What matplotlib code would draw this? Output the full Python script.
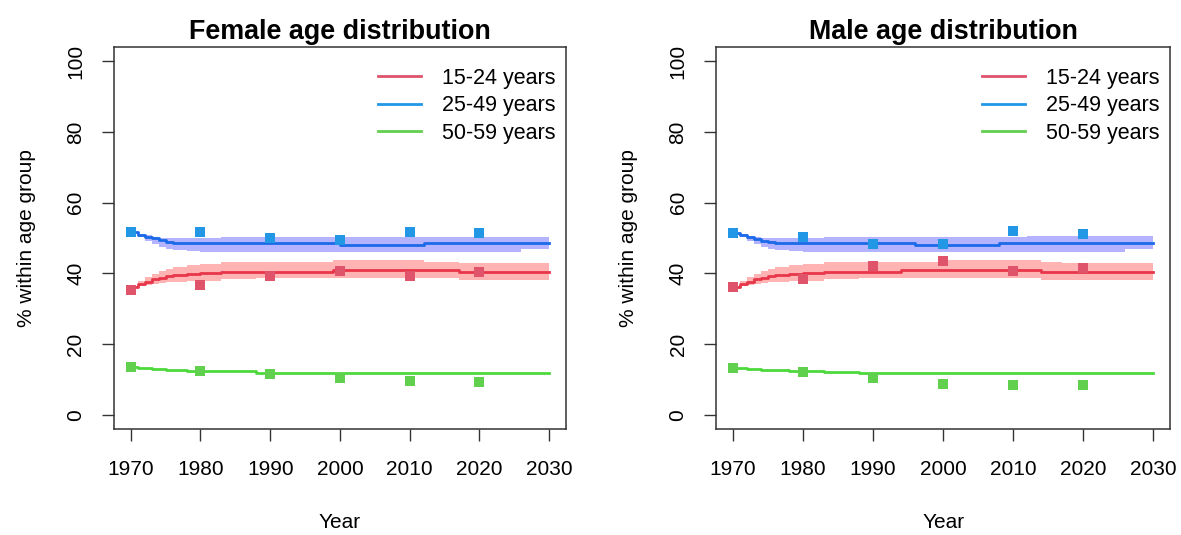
import matplotlib
matplotlib.use('Agg')
import matplotlib.pyplot as plt
from matplotlib.lines import Line2D
import numpy as np

plt.rcParams['font.family'] = ['Liberation Sans', 'DejaVu Sans']

# knot years of the model curves (value holds until next knot)
model_years = [1970, 1971, 1972, 1973, 1974, 1975, 1976, 1978, 1980, 1983, 1988,
               1994, 1996, 1999, 2000, 2008, 2012, 2014, 2017, 2026, 2030]

# female model
f_young_mid = [36.1, 37.0, 37.7, 38.3, 38.8, 39.2, 39.5, 39.9, 40.1, 40.5, 40.5,
               40.5, 40.5, 41.0, 41.0, 41.0, 41.0, 41.0, 40.5, 40.5, 40.5]
f_young_lo = [36.1, 36.4, 36.8, 37.1, 37.3, 37.5, 37.6, 37.8, 37.9, 38.3, 38.6,
              38.6, 38.6, 38.6, 38.6, 38.6, 38.6, 38.6, 38.1, 38.1, 38.1]
f_young_hi = [36.1, 37.8, 39.0, 39.9, 40.6, 41.2, 41.7, 42.3, 42.7, 43.3, 43.3,
              43.3, 43.3, 43.7, 43.7, 43.7, 43.3, 43.3, 43.0, 43.0, 43.0]
f_mid_mid = [51.7, 51.0, 50.4, 49.9, 49.4, 49.0, 48.6, 48.5, 48.5, 48.5, 48.5,
             48.5, 48.5, 48.5, 48.0, 48.0, 48.5, 48.5, 48.5, 48.5, 48.5]
f_mid_lo = [51.7, 50.4, 49.3, 48.4, 47.6, 47.0, 46.6, 46.3, 46.1, 46.1, 46.1,
            46.1, 46.1, 46.1, 46.1, 46.1, 46.1, 46.1, 46.1, 46.8, 46.8]
f_mid_hi = [51.7, 51.2, 50.8, 50.4, 50.1, 49.9, 49.9, 49.9, 49.9, 50.4, 50.4,
            50.4, 50.4, 50.4, 50.4, 50.4, 50.4, 50.4, 50.4, 50.4, 50.4]
f_old_mid = [13.6, 13.4, 13.2, 13.0, 12.9, 12.8, 12.7, 12.5, 12.4, 12.3, 11.9,
             11.9, 11.9, 11.9, 11.9, 11.9, 11.9, 11.9, 11.9, 11.9, 11.9]

# male model
m_young_mid = [36.1, 37.0, 37.7, 38.3, 38.8, 39.2, 39.5, 39.9, 40.1, 40.5, 40.5,
               41.0, 41.0, 41.0, 41.0, 41.0, 41.0, 40.5, 40.5, 40.5, 40.5]
m_young_lo = [36.1, 36.4, 36.8, 37.1, 37.3, 37.5, 37.6, 37.8, 37.9, 38.3, 38.6,
              38.8, 38.8, 38.8, 38.8, 38.8, 38.8, 38.1, 38.1, 38.1, 38.1]
m_young_hi = [36.1, 37.8, 39.0, 39.9, 40.6, 41.2, 41.7, 42.3, 42.7, 43.3, 43.3,
              43.3, 43.3, 43.3, 43.8, 43.8, 43.8, 43.3, 43.0, 43.0, 43.0]
m_mid_mid = [51.5, 50.8, 50.3, 49.8, 49.3, 48.9, 48.6, 48.5, 48.5, 48.5, 48.5,
             48.5, 48.0, 48.0, 48.0, 48.5, 48.5, 48.5, 48.5, 48.5, 48.5]
m_mid_lo = [51.5, 50.4, 49.3, 48.4, 47.6, 47.0, 46.6, 46.3, 46.1, 46.1, 46.1,
            46.1, 46.1, 46.1, 46.1, 46.1, 46.1, 46.1, 46.1, 46.8, 46.8]
m_mid_hi = [51.5, 51.1, 50.7, 50.3, 50.0, 49.9, 49.9, 49.9, 49.9, 50.3, 50.3,
            50.4, 50.4, 50.4, 50.4, 50.4, 50.6, 50.6, 50.6, 50.6, 50.6]
m_old_mid = [13.4, 13.2, 13.0, 12.9, 12.8, 12.7, 12.6, 12.4, 12.3, 12.2, 11.9,
             11.9, 11.9, 11.9, 11.9, 11.9, 11.9, 11.9, 11.9, 11.9, 11.9]

# observed points
obs_years = [1970, 1980, 1990, 2000, 2010, 2020]
f_young_obs = [35.3, 36.7, 39.2, 40.7, 39.3, 40.3]
f_mid_obs = [51.7, 51.8, 50.1, 49.4, 51.8, 51.4]
f_old_obs = [13.6, 12.3, 11.7, 10.5, 9.6, 9.2]
m_young_obs = [36.1, 38.4, 42.1, 43.5, 40.7, 41.6]
m_mid_obs = [51.5, 50.4, 48.3, 48.3, 52.0, 51.1]
m_old_obs = [13.2, 12.1, 10.5, 8.8, 8.5, 8.5]

groups = ['15-24 years', '25-49 years', '50-59 years']
pt_colors = ['#DF536B', '#2297E6', '#61D04F']
line_colors = ['#E8364B', '#1B6BE8', '#4DD83C']
band_colors = ['#FFB3B3', '#B3B3FF']


def draw_panel(ax, title, mids, los, his, obs):
    for i in range(2):
        ax.fill_between(model_years, los[i], his[i], step='post',
                        color=band_colors[i], lw=0, zorder=1)
    for i in range(3):
        ax.plot(model_years, mids[i], drawstyle='steps-post',
                color=line_colors[i], lw=2.0, zorder=2)
    for i in range(3):
        ax.plot(obs_years, obs[i], 's', color=pt_colors[i], ms=7, mew=0, zorder=3)

    ax.set_xlim(1967.6, 2032.4)
    ax.set_ylim(-4, 104)
    ax.set_xticks(np.arange(1970, 2031, 10))
    ax.set_yticks(np.arange(0, 101, 20))
    ax.tick_params(axis='both', labelsize=15, length=8.5, width=1.0,
                   pad=14, color='#333333')
    ax.tick_params(axis='y', pad=12)
    plt.setp(ax.get_yticklabels(), rotation=90, va='center')
    for s in ax.spines.values():
        s.set_linewidth(1.1)
        s.set_color('#333333')
    ax.set_title(title, fontsize=19.4, fontweight='bold', pad=6)
    ax.set_xlabel('Year', fontsize=15, labelpad=24)
    ax.set_ylabel('% within age group', fontsize=15, labelpad=22)

    handles = [Line2D([0], [0], color=c, lw=2.0) for c in pt_colors]
    ax.legend(handles, groups, loc='upper right', bbox_to_anchor=(1.006, 0.98),
              frameon=False, fontsize=15.5, handlelength=2.0, handletextpad=1.0,
              labelspacing=0.3, borderaxespad=0.2)


fig = plt.figure(figsize=(11.81, 5.35), dpi=100)
ax1 = fig.add_axes([0.0965, 0.198, 0.3827, 0.714])
ax2 = fig.add_axes([0.6063, 0.198, 0.3845, 0.714])

draw_panel(ax1, 'Female age distribution',
           [f_young_mid, f_mid_mid, f_old_mid], [f_young_lo, f_mid_lo],
           [f_young_hi, f_mid_hi], [f_young_obs, f_mid_obs, f_old_obs])
draw_panel(ax2, 'Male age distribution',
           [m_young_mid, m_mid_mid, m_old_mid], [m_young_lo, m_mid_lo],
           [m_young_hi, m_mid_hi], [m_young_obs, m_mid_obs, m_old_obs])

fig.savefig('out.png', dpi=100)
